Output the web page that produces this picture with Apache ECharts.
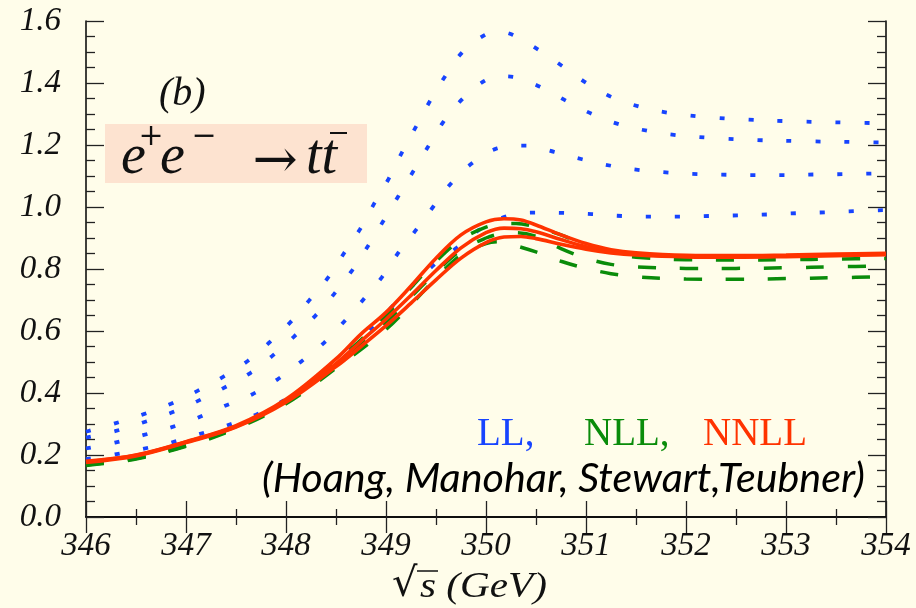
<!DOCTYPE html>
<html><head><meta charset="utf-8">
<script src="https://cdn.jsdelivr.net/npm/echarts@6/dist/echarts.min.js"></script>
<style>html,body{margin:0;padding:0;background:#fffdea}#c{width:916px;height:608px}</style>
</head><body><div id="c"></div>
<script>
// ---- data ----
const xMin = 346, xMax = 354, yMin = 0, yMax = 1.6;

const ll1X = [346.0,346.29,346.57,346.85,347.11,347.37,347.62,347.83,348.04,348.23,348.42,348.58,348.74,348.88,349.02,349.16,349.30,349.44,349.59,349.76,349.99,350.13,350.27,350.53,350.77,351.01,351.26,351.53,351.82,352.2,352.6,353.0,353.5,354.0];
const ll1Y = [0.275,0.302,0.331,0.365,0.406,0.452,0.504,0.562,0.627,0.698,0.772,0.851,0.928,1.01,1.087,1.176,1.259,1.342,1.421,1.498,1.555,1.565,1.555,1.506,1.453,1.399,1.354,1.324,1.304,1.29,1.282,1.277,1.273,1.27];

const ll2X = [346.0,346.29,346.57,346.85,347.11,347.37,347.65,347.86,348.08,348.29,348.48,348.66,348.82,348.97,349.12,349.27,349.42,349.57,349.76,349.98,350.13,350.27,350.54,350.80,351.06,351.33,351.61,351.90,352.3,352.7,353.2,353.6,354.0];
const ll2Y = [0.256,0.277,0.305,0.336,0.373,0.415,0.466,0.519,0.582,0.648,0.719,0.795,0.874,0.953,1.033,1.114,1.194,1.273,1.347,1.406,1.422,1.420,1.388,1.343,1.300,1.267,1.246,1.232,1.222,1.216,1.212,1.21,1.208];

const ll3X = [346.0,346.29,346.57,346.85,347.11,347.37,347.67,347.92,348.15,348.38,348.58,348.77,348.96,349.12,349.30,349.47,349.65,349.86,350.11,350.40,350.68,350.96,351.25,351.54,351.83,352.12,352.41,352.70,352.98,353.29,353.58,353.87,354.0];
const ll3Y = [0.221,0.240,0.264,0.289,0.319,0.356,0.397,0.445,0.501,0.562,0.630,0.700,0.774,0.851,0.926,1.0,1.076,1.141,1.189,1.198,1.178,1.154,1.133,1.119,1.111,1.106,1.104,1.103,1.103,1.105,1.106,1.108,1.109];

const ll4X = [346.0,346.29,346.57,346.85,347.11,347.37,347.7,348.0,348.3,348.6,348.9,349.2,349.45,349.71,349.93,350.21,350.48,350.77,351.06,351.36,351.65,351.94,352.23,352.52,352.82,353.11,353.40,353.69,354.0];
const ll4Y = [0.187,0.202,0.220,0.240,0.265,0.291,0.33,0.38,0.445,0.53,0.625,0.725,0.805,0.869,0.926,0.971,0.982,0.981,0.977,0.971,0.969,0.969,0.971,0.973,0.976,0.980,0.983,0.987,0.99];

const nllX = [346.0,346.5,347.0,347.5,348.0,348.5,349.0,349.25,349.5,349.75,350.0,350.15,350.3,350.5,350.75,351.0,351.25,351.5,352.0,352.5,353.0,353.5,354.0];
const nll1Y = [0.170,0.190,0.232,0.290,0.375,0.500,0.650,0.740,0.825,0.895,0.935,0.945,0.947,0.935,0.910,0.875,0.852,0.838,0.830,0.829,0.830,0.832,0.834];
const nll2Y = [0.168,0.189,0.230,0.288,0.370,0.490,0.628,0.710,0.790,0.860,0.900,0.914,0.917,0.905,0.866,0.835,0.815,0.807,0.802,0.802,0.804,0.807,0.810];
const nll3Y = [0.166,0.187,0.228,0.285,0.365,0.480,0.605,0.685,0.770,0.845,0.882,0.888,0.875,0.855,0.825,0.802,0.785,0.775,0.768,0.767,0.769,0.772,0.775];

const nnllX = [346.0,346.5,347.0,347.5,348.0,348.5,348.75,349.0,349.25,349.5,349.75,350.0,350.18,350.35,350.5,350.75,351.0,351.25,351.5,352.0,352.5,353.0,353.5,354.0];
const nnll1Y = [0.180,0.200,0.243,0.295,0.380,0.510,0.590,0.660,0.745,0.835,0.910,0.952,0.962,0.958,0.942,0.910,0.882,0.862,0.852,0.844,0.843,0.845,0.848,0.851];
const nnll2Y = [0.178,0.199,0.242,0.292,0.375,0.495,0.567,0.638,0.715,0.795,0.868,0.917,0.932,0.930,0.920,0.895,0.872,0.857,0.848,0.841,0.840,0.842,0.845,0.848];
const nnll3Y = [0.176,0.197,0.240,0.290,0.370,0.485,0.550,0.617,0.690,0.765,0.835,0.885,0.903,0.905,0.898,0.880,0.864,0.852,0.845,0.839,0.838,0.840,0.843,0.846];

const legendTexts = ['LL,', 'NLL,', 'NNLL'];
const authorsText = '(Hoang, Manohar, Stewart,Teubner)';
const panelText = '(b)';

// ---- styling ----
const BLUE = '#1744ff', GREEN = '#0a8c0a', RED = '#ff3300', BG = '#fffdea';
const SERIF = '"Liberation Serif", "Times New Roman", serif';
const pairs = (xs, ys) => xs.map((x, i) => [x, ys[i]]);
const measure = (text, font) => { const c = document.createElement('canvas').getContext('2d'); c.font = font; return c.measureText(text).width; };

const blueLine = { color: BLUE, width: 3.8, type: [5, 24], cap: 'butt' };
const greenLine = { color: GREEN, width: 3.5, type: [18, 24], cap: 'butt' };
const redLine = { color: RED, width: 3.6 };

function mk(name, data, ls, z) {
  return { type: 'line', name, data, showSymbol: false, smooth: 0.35, lineStyle: ls, z, silent: true, animation: false };
}

const tickCol = '#222';
const axLine = { show: true, lineStyle: { color: '#000', width: 1.5 } };
const tickFont = { fontFamily: SERIF, fontStyle: 'italic', fontSize: 33, color: '#111' };
function xAx(pos, showLabel) {
  return {
    type: 'value', position: pos, min: xMin, max: xMax, interval: 1,
    axisLine: axLine,
    axisTick: { show: true, inside: true, length: 16, lineStyle: { color: tickCol, width: 1.3 } },
    minorTick: { show: true, splitNumber: 2, length: 8, lineStyle: { color: tickCol, width: 1.3 } },
    splitLine: { show: false },
    axisLabel: Object.assign({ show: showLabel, margin: 13 }, tickFont)
  };
}
function yAx(pos, showLabel) {
  return {
    type: 'value', position: pos, min: yMin, max: yMax, interval: 0.2,
    axisLine: axLine,
    axisTick: { show: true, inside: true, length: 18, lineStyle: { color: tickCol, width: 1.3 } },
    minorTick: { show: true, splitNumber: 4, length: 9, lineStyle: { color: tickCol, width: 1.3 } },
    splitLine: { show: false },
    axisLabel: Object.assign({ show: showLabel, margin: 25, formatter: v => v.toFixed(1) }, tickFont)
  };
}

// text helpers
function txt(text, x, y, size, family, style, color, opts) {
  opts = opts || {};
  const font = (style === 'italic' ? 'italic ' : '') + size + 'px ' + family;
  let sx = 1;
  if (opts.width) sx = opts.width / measure(text, font);
  return { type: 'text', x, y, scaleX: sx, z: 100, silent: true,
    style: { text, font, fill: color,
      align: opts.align || 'left', verticalAlign: 'middle', textAlign: opts.align || 'left', textVerticalAlign: 'middle' } };
}

const chart = echarts.init(document.getElementById('c'), null, { renderer: 'canvas' });
chart.setOption({
  backgroundColor: BG,
  animation: false,
  grid: { left: 86, right: 30, top: 21, bottom: 91, containLabel: false, outerBoundsMode: 'none' },
  xAxis: [xAx('bottom', true), xAx('top', false)],
  yAxis: [yAx('left', true), yAx('right', false)],
  series: [
    mk('LL1', pairs(ll1X, ll1Y), blueLine, 2),
    mk('LL2', pairs(ll2X, ll2Y), blueLine, 2),
    mk('LL3', pairs(ll3X, ll3Y), blueLine, 2),
    mk('LL4', pairs(ll4X, ll4Y), blueLine, 2),
    mk('NLL1', pairs(nllX, nll1Y), greenLine, 3),
    mk('NLL2', pairs(nllX, nll2Y), greenLine, 3),
    mk('NLL3', pairs(nllX, nll3Y), greenLine, 3),
    mk('NNLL1', pairs(nnllX, nnll1Y), redLine, 4),
    mk('NNLL2', pairs(nnllX, nnll2Y), redLine, 4),
    mk('NNLL3', pairs(nnllX, nnll3Y), redLine, 4)
  ],
  graphic: [
    txt(panelText, 159, 94, 40, SERIF, 'italic', '#111'),
    { type: 'rect', shape: { x: 105, y: 124, width: 262, height: 59 }, style: { fill: '#fde3d0' }, z: 99, silent: true },
    txt('e', 121, 158, 56, SERIF, 'italic', '#111'),
    txt('+', 151, 137, 30, '"DejaVu Serif"', 'normal', '#111', { align: 'center' }),
    txt('e', 160, 158, 56, SERIF, 'italic', '#111'),
    txt('\u2212', 204, 137, 30, '"DejaVu Serif"', 'normal', '#111', { align: 'center' }),
    txt('\u2192', 275, 163, 54, '"DejaVu Serif"', 'normal', '#111', { align: 'center' }),
    txt('tt', 306, 158, 56, SERIF, 'italic', '#111'),
    { type: 'line', shape: { x1: 330, y1: 133, x2: 347, y2: 133 }, style: { stroke: '#111', lineWidth: 2 }, z: 100, silent: true },
    txt(legendTexts[0], 477, 435, 39, SERIF, 'normal', BLUE),
    txt(legendTexts[1], 584, 435, 39, SERIF, 'normal', GREEN),
    txt(legendTexts[2], 703, 435, 39, SERIF, 'normal', RED),
    txt(authorsText, 262, 479, 40, 'Lato', 'italic', '#000', { width: 603 }),
    txt('\u221A', 392, 586, 40, '"DejaVu Serif"', 'normal', '#111'),
    { type: 'line', shape: { x1: 417, y1: 571, x2: 438, y2: 571 }, style: { stroke: '#111', lineWidth: 1.5 }, z: 100, silent: true },
    txt('s (GeV)', 420, 588, 36, SERIF, 'italic', '#111', { width: 127 })
  ]
});
</script>
</body></html>
